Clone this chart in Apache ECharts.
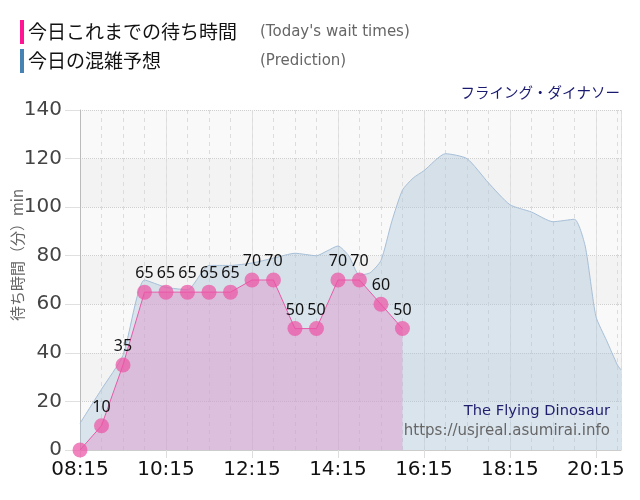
<!DOCTYPE html>
<html>
<head>
<meta charset="utf-8">
<script src="https://cdn.jsdelivr.net/npm/echarts@6/dist/echarts.min.js"></script>
<style>
html,body{margin:0;padding:0;background:#fff;}
#chart{width:640px;height:500px;}
</style>
</head>
<body>
<div id="chart"></div>
<script>
// ---- data ----
const axisStart = '08:15';
const axisEnd = '20:50';
const tickLabels = ['08:15','10:15','12:15','14:15','16:15','18:15','20:15'];

const actualTimes = ['08:15','08:45','09:15','09:45','10:15','10:45','11:15','11:45','12:15','12:45','13:15','13:45','14:15','14:45','15:15','15:45'];
const actualValues = [0,10,35,65,65,65,65,65,70,70,50,50,70,70,60,50];

const predTimes = ['08:15','08:45','09:15','09:45','10:15','10:45','11:15','11:45','12:15','12:45','13:15','13:45','14:00','14:15','14:30','14:45','15:00','15:15','15:30','15:45','16:00','16:15','16:45','17:15','17:45','18:15','18:45','19:15','19:45','20:00','20:15','20:30','20:45','20:50'];
const predValues = [11,25,39,70,67,66,76,76,77,79,81,80,82,84,80,72,73,78,94,107,112,115,122,120,110,101,98,94,95,84,55,45,35,33];

const yTicks = [0,20,40,60,80,100,120,140];

// ---- helpers ----
function toMin(t){ const p=t.split(':'); return (+p[0])*60 + (+p[1]); }
const base = toMin(axisStart);
const xMax = toMin(axisEnd) - base;
const pair = (times, vals) => times.map((t,i)=>[toMin(t)-base, vals[i]]);

const chart = echarts.init(document.getElementById('chart'), null, {renderer:'canvas'});
const jp = '"Noto Sans CJK JP", "DejaVu Sans", sans-serif';
const lat = '"DejaVu Sans", sans-serif';
const lbl = '"Noto Sans", "DejaVu Sans", sans-serif';

chart.setOption({
  animation:false,
  backgroundColor:'#fff',
  grid:{left:80, right:19, top:110, bottom:50, containLabel:false, outerBoundsMode:'none'},
  graphic:[
    {type:'rect', shape:{x:20,y:20,width:4,height:24}, style:{fill:'#ff1493'}},
    {type:'rect', shape:{x:20,y:49,width:4,height:24}, style:{fill:'#4682b4'}},
    {type:'text', x:28, y:32, style:{text:'今日これまでの待ち時間', font:'19px '+jp, fill:'#111', verticalAlign:'middle'}},
    {type:'text', x:260, y:32, style:{text:"(Today's wait times)", font:'15px '+lat, fill:'#666', verticalAlign:'middle'}},
    {type:'text', x:28, y:61, style:{text:'今日の混雑予想', font:'19px '+jp, fill:'#111', verticalAlign:'middle'}},
    {type:'text', x:260, y:61, style:{text:'(Prediction)', font:'15px '+lat, fill:'#666', verticalAlign:'middle'}},
    {type:'text', x:620, y:92, style:{text:'フライング・ダイナソー', font:'14.5px '+jp, fill:'#191970', align:'right', verticalAlign:'middle'}},
    {type:'text', x:17, y:255, rotation:Math.PI/2, style:{text:'待ち時間（分）min', font:'15px '+jp, fill:'#666', align:'center', verticalAlign:'middle'}},
    {type:'text', x:610, y:411, z:100, style:{text:'The Flying Dinosaur', font:'14.7px '+lat, fill:'#1f1f6e', align:'right', verticalAlign:'middle'}},
    {type:'text', x:610, y:431, z:100, style:{text:'https://usjreal.asumirai.info', font:'15px '+lat, fill:'#666', align:'right', verticalAlign:'middle'}}
  ],
  xAxis:[
    {
      type:'value', min:0, max:xMax, interval:120,
      axisLine:{show:true, lineStyle:{color:'#ccc'}},
      axisTick:{show:true, length:8, lineStyle:{color:'#ddd'}},
      axisLabel:{
        fontSize:20, color:'#111', fontFamily:lat, margin:10, showMaxLabel:false,
        formatter:function(v){ const i=v/120; return (Number.isInteger(i) && tickLabels[i]) ? tickLabels[i] : ''; }
      },
      splitLine:{show:true, lineStyle:{color:'#e2e2e2', type:'solid'}}
    },
    {
      type:'value', min:0, max:xMax, interval:30, position:'bottom',
      axisLine:{show:false}, axisTick:{show:false}, axisLabel:{show:false},
      splitLine:{show:true, lineStyle:{color:'#dcdcdc', type:[4,4]}}
    }
  ],
  yAxis:{
    type:'value', min:yTicks[0], max:yTicks[yTicks.length-1], interval:20,
    axisLine:{show:true, lineStyle:{color:'#bbb'}},
    axisTick:{show:true, length:15, lineStyle:{color:'#e0e0e0'}},
    axisLabel:{fontSize:20, color:'#444', fontFamily:lat, margin:18},
    splitLine:{show:true, lineStyle:{color:'#cfcfcf', type:'dotted'}},
    splitArea:{show:true, areaStyle:{color:['#f9f9f9','#f3f3f3']}}
  },
  series:[
    {
      name:'今日の混雑予想', type:'line', xAxisIndex:0,
      data: pair(predTimes, predValues),
      smooth:0.2, symbol:'none',
      lineStyle:{color:'#a6bfd8', width:1},
      areaStyle:{color:'rgba(170,194,218,0.55)'},
      z:2
    },
    {
      name:'今日これまでの待ち時間', type:'line', xAxisIndex:0,
      data: pair(actualTimes, actualValues),
      symbol:'circle', symbolSize:15,
      itemStyle:{color:'rgba(236,85,165,0.72)'},
      lineStyle:{color:'#e85aa8', width:1},
      areaStyle:{color:'rgba(222,140,200,0.6)'},
      label:{show:true, position:'top', distance:3, fontSize:16, color:'#111', fontFamily:lbl,
        formatter:function(p){ return p.value[1] === 0 ? '' : String(p.value[1]); }},
      z:3
    }
  ]
});
</script>
</body>
</html>
